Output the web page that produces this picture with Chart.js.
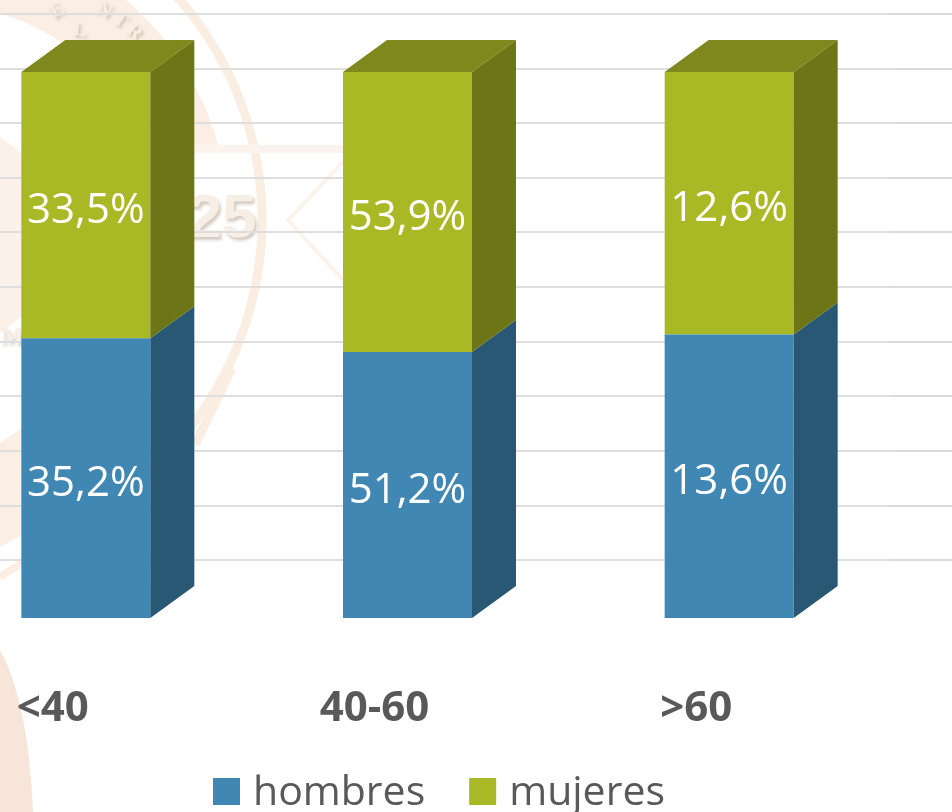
<!DOCTYPE html>
<html><head><meta charset="utf-8">
<style>html,body{margin:0;padding:0;background:#fff;overflow:hidden}canvas{display:block}</style>
<script src="https://cdn.jsdelivr.net/npm/chart.js@4/dist/chart.umd.min.js"></script>
</head><body>
<div style="position:relative;width:952px;height:812px;overflow:hidden">
<div style="position:absolute;left:-75px;top:0;width:1027px;height:812px"><canvas id="c"></canvas></div>
</div>
<script>
const categories = ["<40", "40-60", ">60"];
const hombres = [35.2, 51.2, 13.6];
const mujeres = [33.5, 53.9, 12.6];
const gridValues = [10.6, 20.6, 30.6, 40.6, 50.6, 60.6, 70.6, 80.6, 90.6, 100.6, 110.6];
const seriesNames = ["hombres", "mujeres"];

const FONT = '"Open Sans", "Noto Sans", sans-serif';
const SHIFT = 75;
const shareH = hombres.map((v, i) => v / (v + mujeres[i]) * 100);
const shareM = mujeres.map((v, i) => v / (v + hombres[i]) * 100);
const pct = v => v.toFixed(1).replace('.', ',') + '%';

const watermark = {
  id: 'watermark',
  beforeDraw(chart) {
    const c = chart.ctx;
    c.save();
    c.fillStyle = '#fff'; c.fillRect(0, 0, chart.width, chart.height);
    c.translate(SHIFT, 0);
    // upper part of the seal's inner band
    c.save();
    c.beginPath(); c.rect(-SHIFT, 0, 500, 145); c.clip();
    c.fillStyle = '#fbefe5';
    c.beginPath(); c.arc(-60, 220, 288, 0, Math.PI * 2); c.fill();
    c.fillStyle = '#fff';
    c.beginPath(); c.arc(-60, 220, 215, 0, Math.PI * 2); c.fill();
    c.restore();
    // centre of the seal
    c.fillStyle = '#fbf1e8';
    c.beginPath(); c.arc(-60, 235, 115, 0, Math.PI * 2); c.fill();
    // outer ring
    c.lineWidth = 9; c.strokeStyle = '#faeee3';
    c.beginPath(); c.arc(-74, 220, 336, -0.95, 0.85); c.stroke();
    c.beginPath(); c.moveTo(232, 368); c.lineTo(195, 445); c.stroke();
    // band and diamond
    c.lineWidth = 8; c.strokeStyle = '#fcf4ec';
    c.beginPath(); c.moveTo(190, 149); c.lineTo(345, 149); c.stroke();
    c.lineWidth = 4; c.strokeStyle = '#fbf4ec';
    c.beginPath(); c.moveTo(345, 160); c.lineTo(288, 220); c.lineTo(345, 282); c.stroke();
    // lower-left wedge and blob
    c.fillStyle = '#fbefe5';
    c.beginPath(); c.moveTo(0, 443); c.lineTo(22, 428); c.lineTo(22, 535); c.lineTo(0, 547); c.closePath(); c.fill();
    c.strokeStyle = '#fbefe5'; c.lineWidth = 8;
    c.beginPath(); c.moveTo(0, 577); c.lineTo(22, 563); c.stroke();
    c.fillStyle = '#f6e5d8';
    c.beginPath(); c.moveTo(0, 650); c.quadraticCurveTo(28, 700, 33, 812); c.lineTo(0, 812); c.closePath(); c.fill();
    // seal lettering
    c.textAlign = 'center'; c.textBaseline = 'middle';
    c.shadowColor = 'rgba(170,150,130,.5)'; c.shadowBlur = 3; c.shadowOffsetX = 2; c.shadowOffsetY = 3;
    c.fillStyle = '#f7eee5';
    c.font = 'bold 62px "Liberation Sans", sans-serif';
    c.fillText('25', 222, 220);
    c.font = 'bold 20px "Liberation Serif", serif';
    [['N', 104, 10, .5], ['T', 120, 20, .6], ['R', 134, 32, .7],
     ['E', 57, 10, -.6], ['L', 80, 30, .1]].forEach(([t, x, y, r]) => {
      c.save(); c.translate(x, y); c.rotate(r); c.fillText(t, 0, 0); c.restore();
    });
    c.font = 'bold 24px "Liberation Serif", serif';
    c.fillText('M', 12, 337);
    c.restore();
  }
};

const gridExtend = {
  id: 'gridExtend',
  beforeDatasetsDraw(chart) {
    const c = chart.ctx, y = chart.scales.y;
    c.save(); c.strokeStyle = '#dbdbdb'; c.lineWidth = 2;
    y.ticks.forEach(t => {
      const p = Math.round(y.getPixelForValue(t.value));
      c.beginPath(); c.moveTo(chart.chartArea.right, p); c.lineTo(chart.width, p); c.stroke();
    });
    c.restore();
  }
};

const DX = 44, DY = -32;
const faces = [{ side: '#285873' }, { side: '#6d7616', top: '#7f881c' }];
const bars3d = {
  id: 'bars3d',
  afterDatasetsDraw(chart) {
    const c = chart.ctx;
    c.save();
    chart.data.datasets.forEach((ds, di) => {
      chart.getDatasetMeta(di).data.forEach(b => {
        const r = b.x + b.width / 2, l = b.x - b.width / 2;
        c.fillStyle = faces[di].side;
        c.beginPath();
        c.moveTo(r, b.y); c.lineTo(r + DX, b.y + DY); c.lineTo(r + DX, b.base + DY); c.lineTo(r, b.base);
        c.closePath(); c.fill();
        if (faces[di].top) {
          c.fillStyle = faces[di].top;
          c.beginPath();
          c.moveTo(l, b.y); c.lineTo(l + DX, b.y + DY); c.lineTo(r + DX, b.y + DY); c.lineTo(r, b.y);
          c.closePath(); c.fill();
        }
      });
    });
    c.fillStyle = '#fff'; c.textAlign = 'center'; c.textBaseline = 'middle';
    c.font = '42px ' + FONT;
    [hombres, mujeres].forEach((vals, di) => {
      chart.getDatasetMeta(di).data.forEach((b, i) => {
        c.fillText(pct(vals[i]), b.x, (b.y + b.base) / 2 + 6);
      });
    });
    c.restore();
  }
};

const legendDraw = {
  id: 'legendDraw',
  afterDraw(chart) {
    const c = chart.ctx;
    c.save();
    c.translate(SHIFT, 0);
    c.font = '41px ' + FONT; c.textBaseline = 'alphabetic'; c.textAlign = 'left';
    let x = 213;
    chart.data.datasets.forEach(ds => {
      c.fillStyle = ds.backgroundColor;
      c.fillRect(x, 778, 27, 27);
      c.fillStyle = '#595959';
      c.fillText(ds.label, x + 40, 805);
      x += 40 + c.measureText(ds.label).width + 44;
    });
    c.restore();
  }
};

new Chart(document.getElementById('c'), {
  type: 'bar',
  data: {
    labels: categories,
    datasets: [
      { label: seriesNames[0], data: shareH, backgroundColor: '#4187b3', borderWidth: 0 },
      { label: seriesNames[1], data: shareM, backgroundColor: '#a9b825', borderWidth: 0 }
    ]
  },
  options: {
    responsive: true, maintainAspectRatio: false, animation: false,
    layout: { padding: { left: 0, right: 62, top: 14, bottom: 81 } },
    datasets: { bar: { barPercentage: 0.401, categoryPercentage: 1 } },
    plugins: { legend: { display: false }, tooltip: { enabled: false } },
    scales: {
      x: {
        stacked: true,
        grid: { display: false }, border: { display: false },
        afterFit(s) { s.height = 113; },
        ticks: {
          padding: 58, labelOffset: -33, autoSkip: false, maxRotation: 0, minRotation: 0,
          color: '#595959', font: { family: FONT, size: 42, weight: 'bold' }
        }
      },
      y: {
        stacked: true, min: 0, max: 110.6,
        afterBuildTicks(s) { s.ticks = gridValues.map(value => ({ value })); },
        afterFit(s) { s.width = 0; },
        grid: { color: '#dedede', lineWidth: 2, drawTicks: false },
        border: { display: false },
        ticks: { display: false }
      }
    }
  },
  plugins: [watermark, gridExtend, bars3d, legendDraw]
});
</script>
</body></html>
